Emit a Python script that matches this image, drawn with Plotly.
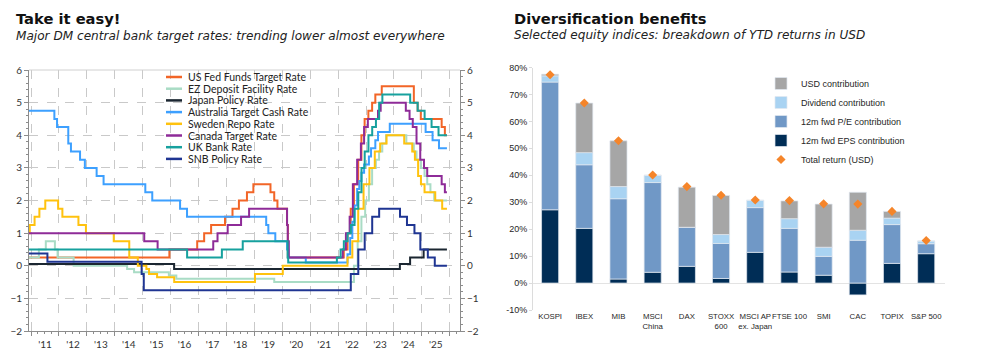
import plotly.graph_objects as go

# ---------------- Left chart data: policy rate changes (date, rate) ----------------
END_DATE = "2025-11-25"

us_dates = ["2010-12-01","2015-12-16","2016-12-14","2017-03-15","2017-06-14","2017-12-13","2018-03-21",
            "2018-06-13","2018-09-26","2018-12-19","2019-07-31","2019-09-18","2019-10-30","2020-03-03",
            "2020-03-15","2022-03-16","2022-05-04","2022-06-15","2022-07-27","2022-09-21","2022-11-02",
            "2022-12-14","2023-02-01","2023-03-22","2023-05-03","2023-07-26","2024-09-18","2024-11-07",
            "2024-12-18","2025-09-17","2025-10-29"]
us_rates = [0.25,0.5,0.75,1.0,1.25,1.5,1.75,2.0,2.25,2.5,2.25,2.0,1.75,1.25,0.25,0.5,1.0,1.75,2.5,3.25,4.0,
            4.5,4.75,5.0,5.25,5.5,5.0,4.75,4.5,4.25,4.0]

ez_dates = ["2010-12-01","2011-04-13","2011-07-13","2011-11-09","2011-12-14","2012-07-11","2014-06-11",
            "2014-09-10","2015-12-09","2016-03-16","2019-09-18","2022-07-27","2022-09-14","2022-11-02",
            "2022-12-21","2023-02-08","2023-03-22","2023-05-10","2023-06-21","2023-08-02","2023-09-20",
            "2024-06-12","2024-09-18","2024-10-23","2024-12-18","2025-02-05","2025-03-12","2025-04-23",
            "2025-06-11"]
ez_rates = [0.25,0.5,0.75,0.5,0.25,0.0,-0.1,-0.2,-0.3,-0.4,-0.5,0.0,0.75,1.5,2.0,2.5,3.0,3.25,3.5,3.75,4.0,
            3.75,3.5,3.25,3.0,2.75,2.5,2.25,2.0]

jp_dates = ["2010-12-01","2016-02-16","2024-03-19","2024-07-31","2025-01-24"]
jp_rates = [0.05,-0.1,0.05,0.25,0.5]

au_dates = ["2010-12-01","2011-11-02","2011-12-07","2012-05-02","2012-06-06","2012-10-03","2012-12-05",
            "2013-05-08","2013-08-07","2015-02-04","2015-05-06","2016-05-04","2016-08-03","2019-06-05",
            "2019-07-03","2019-10-02","2020-03-04","2020-03-20","2020-11-04","2022-05-04","2022-06-08",
            "2022-07-06","2022-08-03","2022-09-07","2022-10-05","2022-11-02","2022-12-07","2023-02-08",
            "2023-03-08","2023-05-03","2023-06-07","2023-11-08","2025-02-19","2025-05-21","2025-08-13"]
au_rates = [4.75,4.5,4.25,3.75,3.5,3.25,3.0,2.75,2.5,2.25,2.0,1.75,1.5,1.25,1.0,0.75,0.5,0.25,0.1,0.35,0.85,
            1.35,1.85,2.35,2.6,2.85,3.1,3.35,3.6,3.85,4.1,4.35,4.1,3.85,3.6]

se_dates = ["2010-12-01","2010-12-15","2011-02-16","2011-04-20","2011-07-06","2011-12-21","2012-02-15",
            "2012-09-12","2012-12-19","2013-12-18","2014-07-09","2014-10-29","2015-02-18","2015-03-25",
            "2015-07-08","2016-02-17","2019-01-09","2020-01-08","2022-05-04","2022-07-06","2022-09-21",
            "2022-11-30","2023-02-15","2023-04-26","2023-07-05","2023-09-27","2024-05-15","2024-08-28",
            "2024-10-02","2024-11-13","2024-12-20","2025-02-05","2025-06-25","2025-09-24"]
se_rates = [1.0,1.25,1.5,1.75,2.0,1.75,1.5,1.25,1.0,0.75,0.25,0.0,-0.1,-0.25,-0.35,-0.5,-0.25,0.0,0.25,0.75,
            1.75,2.5,3.0,3.5,3.75,4.0,3.75,3.5,3.25,2.75,2.5,2.25,2.0,1.75]

ca_dates = ["2010-12-01","2015-01-21","2015-07-15","2017-07-12","2017-09-06","2018-01-17","2018-07-11",
            "2018-10-24","2020-03-04","2020-03-13","2020-03-27","2022-03-02","2022-04-13","2022-06-01",
            "2022-07-13","2022-09-07","2022-10-26","2022-12-07","2023-01-25","2023-06-07","2023-07-12",
            "2024-06-05","2024-07-24","2024-09-04","2024-10-23","2024-12-11","2025-01-29","2025-03-12",
            "2025-09-17","2025-10-29"]
ca_rates = [1.0,0.75,0.5,0.75,1.0,1.25,1.5,1.75,1.25,0.75,0.25,0.5,1.0,1.5,2.5,3.25,3.75,4.25,4.5,4.75,5.0,
            4.75,4.5,4.25,3.75,3.25,3.0,2.75,2.5,2.25]

uk_dates = ["2010-12-01","2016-08-04","2017-11-02","2018-08-02","2020-03-11","2020-03-19","2021-12-16",
            "2022-02-03","2022-03-17","2022-05-05","2022-06-16","2022-08-04","2022-09-22","2022-11-03",
            "2022-12-15","2023-02-02","2023-03-23","2023-05-11","2023-06-22","2023-08-03","2024-08-01",
            "2024-11-07","2025-02-06","2025-05-08","2025-08-07"]
uk_rates = [0.5,0.25,0.5,0.75,0.25,0.1,0.25,0.5,0.75,1.0,1.25,1.75,2.25,3.0,3.5,4.0,4.25,4.5,5.0,5.25,5.0,
            4.75,4.5,4.25,4.0]

ch_dates = ["2010-12-01","2011-08-03","2014-12-18","2015-01-15","2022-06-16","2022-09-22","2022-12-15",
            "2023-03-23","2023-06-22","2024-03-21","2024-06-20","2024-09-26","2024-12-12","2025-03-20",
            "2025-06-19"]
ch_rates = [0.375,0.125,-0.25,-0.75,-0.25,0.5,1.0,1.5,1.75,1.5,1.25,1.0,0.5,0.25,0.0]

series_names = ["US Fed Funds Target Rate","EZ Deposit Facility Rate","Japan Policy Rate",
                "Australia Target Cash Rate","Sweden Repo Rate","Canada Target Rate","UK Bank Rate",
                "SNB Policy Rate"]
series_dates = [us_dates, ez_dates, jp_dates, au_dates, se_dates, ca_dates, uk_dates, ch_dates]
series_rates = [us_rates, ez_rates, jp_rates, au_rates, se_rates, ca_rates, uk_rates, ch_rates]
series_colors = ["#F26527","#A9DCC5","#1B2631","#3DA0FF","#FFC20E","#8E2B98","#17A19E","#1F3592"]

left_yticks = [-2, -1, 0, 1, 2, 3, 4, 5, 6]

# ---------------- Right chart data ----------------
indices = ["KOSPI","IBEX","MIB","MSCI<br>China","DAX","STOXX<br>600","MSCI AP<br>ex. Japan","FTSE 100",
           "SMI","CAC","TOPIX","S&P 500"]
eps_contrib = [27.2, 20.3, 1.5, 4.0, 6.2, 1.7, 11.4, 4.1, 2.9, -4.4, 7.3, 10.9]
pe_contrib = [47.4, 23.6, 29.8, 33.3, 14.5, 13.0, 16.6, 16.2, 7.0, 15.9, 14.4, 3.7]
div_contrib = [2.3, 4.5, 4.5, 2.7, 0.0, 3.3, 2.7, 3.6, 3.4, 3.7, 2.4, 1.0]
usd_contrib = [0.6, 18.4, 17.0, 0.0, 14.9, 14.5, 0.0, 6.6, 16.0, 14.1, 2.5, 0.0]
total_return = [77.3, 66.8, 52.8, 40.1, 35.8, 32.6, 30.8, 30.6, 29.4, 29.3, 26.6, 15.8]

right_yticks = [-10, 0, 10, 20, 30, 40, 50, 60, 70, 80]
right_yticklabels = ["-10%", "0%", "10%", "20%", "30%", "40%", "50%", "60%", "70%", "80%"]

# ---------------- Layout geometry (pixels) ----------------
W, H = 1006, 355
def px(x):
    return x / W
def py(y):
    return (H - y) / H

fig = go.Figure()

# Left chart lines
for name, d, r, c in zip(series_names, series_dates, series_rates, series_colors):
    fig.add_trace(go.Scatter(
        x=list(d) + [END_DATE], y=list(r) + [r[-1]], name=name, mode="lines",
        line=dict(color=c, width=2, shape="hv"), xaxis="x", yaxis="y", showlegend=False,
        hovertemplate=name + ": %{y:.2f}<extra></extra>"))

# dummy trace to activate the right-hand mirror axis on the left chart
fig.add_trace(go.Scatter(x=[us_dates[0]], y=[None], xaxis="x", yaxis="y3", showlegend=False,
                         hoverinfo="skip", mode="lines"))

# Right chart bars
bar_line = dict(color="rgba(225,232,240,0.9)", width=0.8)
fig.add_trace(go.Bar(x=indices, y=eps_contrib, name="12m fwd EPS contribution", marker_color="#002D56",
                     marker_line=bar_line, xaxis="x2", yaxis="y2", legend="legend2", legendrank=4, width=0.5))
fig.add_trace(go.Bar(x=indices, y=pe_contrib, name="12m fwd P/E contribution", marker_color="#7098C6",
                     marker_line=bar_line, xaxis="x2", yaxis="y2", legend="legend2", legendrank=3, width=0.5))
fig.add_trace(go.Bar(x=indices, y=div_contrib, name="Dividend contribution", marker_color="#A9D3F2",
                     marker_line=bar_line, xaxis="x2", yaxis="y2", legend="legend2", legendrank=2, width=0.5))
fig.add_trace(go.Bar(x=indices, y=usd_contrib, name="USD contribution", marker_color="#A6A6A6",
                     marker_line=bar_line, xaxis="x2", yaxis="y2", legend="legend2", legendrank=1, width=0.5))
fig.add_trace(go.Scatter(x=indices, y=total_return, name="Total return (USD)", mode="markers",
                         marker=dict(symbol="diamond", size=7, color="#F5852A"),
                         xaxis="x2", yaxis="y2", legend="legend2", legendrank=5))

grid_col = "#C9C9C9"
axis_col = "#8C8C8C"
left_font = dict(family="Lato, Noto Sans, sans-serif", size=10, color="#333333")
right_xfont = dict(family="Liberation Sans, Arial, sans-serif", size=7.8, color="#262626")
right_yfont = dict(family="Liberation Sans, Arial, sans-serif", size=9, color="#262626")

fig.update_layout(
    width=W, height=H, margin=dict(l=0, r=0, t=0, b=0, autoexpand=False),
    paper_bgcolor="white", plot_bgcolor="white", barmode="relative",
    showlegend=True,
    xaxis=dict(domain=[px(29), px(460)], anchor="y", type="date", automargin=False,
               range=["2010-12-05", "2026-05-15"],
               tick0="2011-01-01", dtick="M12", tickformat="'%y", ticklabelmode="period",
               showgrid=True, gridcolor=grid_col, griddash="dash", gridwidth=1,
               showline=True, linecolor=axis_col, linewidth=1,
               ticks="outside", ticklen=4, tickcolor=axis_col,
               minor=dict(dtick="M3", ticks="outside", ticklen=2, tickcolor=axis_col, showgrid=False),
               tickfont=left_font, zeroline=False, fixedrange=True),
    yaxis=dict(domain=[py(331), py(70)], anchor="x", range=[-2, 6], tickvals=left_yticks, automargin=False,
               showgrid=True, gridcolor=grid_col, griddash="dash", zeroline=False,
               showline=True, linecolor=axis_col, ticks="outside", ticklen=4, tickcolor=axis_col,
               minor=dict(dtick=0.2, ticks="outside", ticklen=2, tickcolor=axis_col),
               tickfont=left_font, fixedrange=True),
    yaxis3=dict(overlaying="y", anchor="x", side="right", range=[-2, 6], tickvals=left_yticks,
                automargin=False, showgrid=False, zeroline=False, showline=True, linecolor=axis_col,
                ticks="outside", ticklen=4, tickcolor=axis_col,
                minor=dict(dtick=0.2, ticks="outside", ticklen=2, tickcolor=axis_col),
                tickfont=left_font, fixedrange=True),
    xaxis2=dict(domain=[px(533), px(945)], anchor="y2", type="category", range=[-0.5, 11.55],
                automargin=False, tickangle=0,
                showgrid=False, showline=False, ticks="", tickfont=right_xfont, fixedrange=True),
    yaxis2=dict(domain=[py(310), py(67.5)], anchor="x2", range=[-10, 80], tickvals=right_yticks,
                ticktext=right_yticklabels, automargin=False,
                showgrid=False, zeroline=True, zerolinecolor="#E3E3E3", zerolinewidth=1,
                showline=True, linecolor="#DCDCDC", ticks="outside", ticklen=3, tickcolor="#DCDCDC",
                tickfont=right_yfont, fixedrange=True),
    legend2=dict(x=px(761), y=py(69), xanchor="left", yanchor="top", traceorder="normal",
                 font=dict(family="Liberation Sans, Arial, sans-serif", size=9, color="#262626"),
                 bgcolor="rgba(0,0,0,0)", tracegroupgap=0, itemwidth=30),
)

# top frame line of the left chart
fig.add_shape(type="line", xref="paper", yref="paper", x0=px(29), x1=px(460), y0=py(70), y1=py(70),
              line=dict(color="#D0D0D0", width=1))

# Left chart legend (compact, built from the series lists)
leg_top, leg_step = 77.0, 11.7
for i, (name, c) in enumerate(zip(series_names, series_colors)):
    yy = py(leg_top + i * leg_step)
    fig.add_shape(type="line", xref="paper", yref="paper", x0=px(166), x1=px(182), y0=yy, y1=yy,
                  line=dict(color=c, width=2.5))
    fig.add_annotation(text=name, xref="paper", yref="paper", x=px(186), y=yy, xanchor="left",
                       yanchor="middle", showarrow=False,
                       font=dict(family="Lato, Noto Sans, sans-serif", size=10.5, color="#222222"))

# Titles
title_font = dict(family="DejaVu Sans, sans-serif", size=14.7, color="#111111")
sub_font = dict(family="DejaVu Sans, sans-serif", size=12.1, color="#222222")
fig.add_annotation(text="<b>Take it easy!</b>", xref="paper", yref="paper", x=px(14), y=py(18),
                   xanchor="left", yanchor="middle", showarrow=False, font=title_font)
fig.add_annotation(text="<i>Major DM central bank target rates: trending lower almost everywhere</i>",
                   xref="paper", yref="paper", x=px(14), y=py(36), xanchor="left", yanchor="middle",
                   showarrow=False, font=sub_font)
fig.add_annotation(text="<b>Diversification benefits</b>", xref="paper", yref="paper", x=px(512), y=py(18),
                   xanchor="left", yanchor="middle", showarrow=False, font=title_font)
fig.add_annotation(text="<i>Selected equity indices: breakdown of YTD returns in USD</i>",
                   xref="paper", yref="paper", x=px(512), y=py(35), xanchor="left", yanchor="middle",
                   showarrow=False, font=sub_font)

# the page's default body margin would shift the figure by 8 px; remove it
fig.write_html("out.html", config={"displayModeBar": False},
               post_script="document.body.style.margin='0';")
